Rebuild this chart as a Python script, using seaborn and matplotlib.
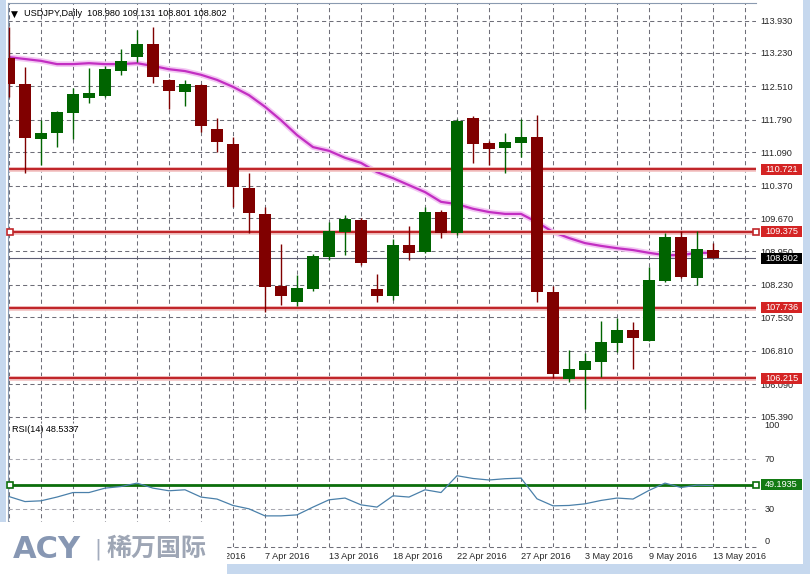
import numpy as np
import pandas as pd
import matplotlib
matplotlib.use('Agg')
import matplotlib.pyplot as plt
from matplotlib.patches import Rectangle
import seaborn as sns

# USDJPY daily candles (oldest -> newest)
opens = [113.12, 112.56, 111.38, 111.50, 111.94, 112.26, 112.30, 112.84, 113.14, 113.42,
         112.65, 112.39, 112.54, 111.59, 111.27, 110.32, 109.76, 108.20, 107.86, 108.14,
         108.83, 109.37, 109.63, 108.14, 107.99, 109.09, 108.94, 109.80, 109.35, 111.83,
         111.29, 111.18, 111.29, 111.42, 108.08, 106.20, 106.39, 106.57, 106.98, 107.26,
         107.02, 108.31, 109.26, 108.38, 108.980]
highs = [113.79, 112.93, 111.78, 111.98, 112.47, 112.91, 112.95, 113.32, 113.73, 113.79,
         112.67, 112.65, 112.56, 111.83, 111.42, 110.64, 109.91, 109.11, 108.44, 108.90,
         109.59, 109.74, 109.67, 108.46, 109.22, 109.50, 109.91, 109.84, 111.81, 111.87,
         111.33, 111.50, 111.81, 111.89, 108.20, 106.82, 106.76, 107.45, 107.51, 107.43,
         108.61, 109.35, 109.39, 109.39, 109.131]
lows = [112.28, 110.64, 110.81, 111.20, 111.38, 112.15, 112.28, 112.76, 113.04, 112.58,
        112.02, 112.09, 111.53, 111.09, 109.91, 109.35, 107.64, 107.80, 107.77, 108.10,
        108.77, 108.87, 108.66, 107.86, 107.90, 108.77, 108.92, 109.24, 109.30, 110.86,
        110.81, 110.64, 110.99, 107.86, 106.22, 106.13, 105.55, 106.24, 106.78, 106.42,
        107.02, 108.29, 108.38, 108.23, 108.801]
closes = [112.56, 111.40, 111.50, 111.96, 112.35, 112.37, 112.89, 113.06, 113.42, 112.71,
          112.41, 112.56, 111.66, 111.31, 110.34, 109.78, 108.18, 107.99, 108.16, 108.85,
          109.39, 109.65, 108.70, 107.99, 109.09, 108.92, 109.80, 109.35, 111.76, 111.27,
          111.16, 111.31, 111.42, 108.08, 106.31, 106.42, 106.59, 107.00, 107.26, 107.08,
          108.33, 109.26, 108.40, 109.00, 108.802]
moving_avg = [113.14, 113.10, 113.06, 112.99, 112.99, 113.01, 112.99, 112.99, 113.01, 112.95,
              112.88, 112.84, 112.76, 112.65, 112.50, 112.32, 112.07, 111.78, 111.46, 111.20,
              111.12, 110.97, 110.86, 110.66, 110.53, 110.38, 110.23, 110.02, 109.97, 109.87,
              109.80, 109.76, 109.76, 109.58, 109.37, 109.24, 109.13, 109.07, 109.02, 108.98,
              108.92, 108.87, 108.87, 108.92, 108.92]
rsi = [39.8, 35.8, 36.4, 39.4, 43.0, 43.0, 46.5, 47.8, 50.5, 46.5,
       44.4, 45.2, 39.4, 37.8, 32.7, 30.0, 24.4, 24.4, 25.2, 31.4,
       37.2, 38.6, 33.2, 31.4, 40.4, 39.4, 45.2, 43.0, 56.4, 54.2,
       53.0, 54.0, 54.5, 38.0, 32.4, 32.7, 34.0, 36.7, 38.6, 37.8,
       44.7, 50.5, 47.0, 48.9, 48.5337]

date_ticks = [12, 16, 20, 24, 28, 32, 36, 40, 44]
date_labels = ['1 Apr 2016', '7 Apr 2016', '13 Apr 2016', '18 Apr 2016', '22 Apr 2016',
               '27 Apr 2016', '3 May 2016', '9 May 2016', '13 May 2016']
price_ticks = [113.930, 113.230, 112.510, 111.790, 111.090, 110.370, 109.670,
               108.950, 108.230, 107.530, 106.810, 106.090, 105.390]
level_prices = [110.721, 109.375, 107.736, 106.215]
selected_level = 109.375
last_price = 108.802
rsi_level = 49.1935
rsi_ticks = [0, 30, 70, 100]

df = pd.DataFrame({'open': opens, 'high': highs, 'low': lows, 'close': closes,
                   'ma': moving_avg, 'rsi': rsi})
df['i'] = np.arange(len(df))

sns.set_style('white')
plt.rcParams['font.family'] = ['Liberation Sans', 'DejaVu Sans']

W, H = 810, 574
fig = plt.figure(figsize=(8.1, 5.74), dpi=100)


def px_box(x0, y0, x1, y1):
    return [x0 / W, 1 - y1 / H, (x1 - x0) / W, (y1 - y0) / H]


ax = fig.add_axes(px_box(8, 3, 756, 420))
ax_rsi = fig.add_axes(px_box(8, 421, 756, 546.5))
xlim = (-0.0625, 46.6875)
grid_kw = dict(color='#6e6e78', lw=0.75, ls=(0, (4, 3)))
small = 6.6

# ---- price panel ----
ax.set_xlim(*xlim)
ax.set_ylim(105.315, 114.308)
ax.set_xticks(range(0, 47, 2))
ax.set_xticklabels([])
ax.set_yticks(price_ticks)
ax.set_yticklabels([f'{v:.3f}' for v in price_ticks])
ax.yaxis.tick_right()
ax.tick_params(axis='y', length=0, pad=3, labelsize=small)
ax.tick_params(axis='x', length=0)
ax.grid(True, **grid_kw)
for s in ['right', 'bottom']:
    ax.spines[s].set_visible(False)
for s in ['left', 'top']:
    ax.spines[s].set_color('#8a9ab0')
    ax.spines[s].set_linewidth(0.8)

# moving average with soft halo, behind the candles
sns.lineplot(x=df['i'], y=df['ma'], ax=ax, color='#f3c6f3', lw=4, zorder=2)
sns.lineplot(x=df['i'], y=df['ma'], ax=ax, color='#c22ec2', lw=1.6, zorder=2.1)

# support / resistance levels
for lv in level_prices:
    ax.axhline(lv, color='#f4c8c8', lw=3.5, zorder=2.2)
    ax.axhline(lv, color='#c0262a', lw=1.6, zorder=2.3)
ax.axhline(last_price, color='#5e5e74', lw=0.8, zorder=2.3)
ax.plot([0.003, 1.0], [selected_level, selected_level], 's', ms=4, mfc='white',
        mec='#c0262a', mew=1.2, transform=ax.get_yaxis_transform(), clip_on=False, zorder=9)

# candles
up = df['close'] >= df['open']
colors = np.where(up, '#006400', '#800000')
ax.vlines(df['i'], df['low'], df['high'], colors=colors, lw=1, zorder=4)
body_low = df[['open', 'close']].min(axis=1)
body_h = (df['close'] - df['open']).abs().clip(lower=0.02)
ax.bar(df['i'], body_h, bottom=body_low, width=0.7, color=colors, lw=0, zorder=5)
ax.set_xlabel('')
ax.set_ylabel('')


def price_tag(axis, y, text, fc, px_per_unit):
    h = 11 / px_per_unit
    tr = axis.get_yaxis_transform()
    axis.add_patch(Rectangle((1.0067, y - h / 2), 0.055, h, transform=tr, fc=fc, ec='none',
                             clip_on=False, zorder=10))
    axis.text(1.0067 + 0.0275, y, text, transform=tr, ha='center', va='center',
              color='white', fontsize=small, zorder=11, clip_on=False)


ppu = 417 / (114.308 - 105.315)
for lv in level_prices:
    price_tag(ax, lv, f'{lv:.3f}', '#d42424', ppu)
price_tag(ax, last_price, f'{last_price:.3f}', '#000000', ppu)

# ---- RSI panel ----
ax_rsi.set_xlim(*xlim)
ax_rsi.set_ylim(0, 100)
ax_rsi.set_xticks(range(0, 47, 2))
ax_rsi.set_xticklabels([date_labels[date_ticks.index(t)] if t in date_ticks else ''
                        for t in range(0, 47, 2)])
for lab in ax_rsi.get_xticklabels():
    lab.set_ha('left')
ax_rsi.tick_params(axis='x', length=0, pad=4, labelsize=small)
ax_rsi.set_yticks(rsi_ticks)
ax_rsi.set_yticklabels([str(t) for t in rsi_ticks])
ax_rsi.yaxis.tick_right()
ax_rsi.tick_params(axis='y', length=0, pad=6, labelsize=small)
for lab, t in zip(ax_rsi.get_yticklabels(), rsi_ticks):
    if t == 100:
        lab.set_va('top')
    elif t == 0:
        lab.set_va('bottom')
ax_rsi.grid(True, axis='x', **grid_kw)
for s in ['right', 'bottom', 'top']:
    ax_rsi.spines[s].set_visible(False)
ax_rsi.spines['left'].set_color('#8a9ab0')
ax_rsi.spines['left'].set_linewidth(0.8)
for t in [30, 70]:
    ax_rsi.axhline(t, color='#a8a8b0', lw=0.75, ls=(0, (4, 3)), zorder=1)
ax_rsi.axhline(0, color='#6e6e78', lw=0.75, ls=(0, (4, 3)), zorder=1, clip_on=False)

ax_rsi.axhline(rsi_level, color='#0b6e0b', lw=2, zorder=3)
ax_rsi.plot([0.003, 1.0], [rsi_level, rsi_level], 's', ms=4, mfc='white', mec='#0b6e0b',
            mew=1.2, transform=ax_rsi.get_yaxis_transform(), clip_on=False, zorder=9)
sns.lineplot(x=df['i'], y=df['rsi'], ax=ax_rsi, color='#4a80aa', lw=0.9, zorder=4)
ax_rsi.set_xlabel('')
ax_rsi.set_ylabel('')
price_tag(ax_rsi, rsi_level, f'{rsi_level:.4f}', '#137a13', 1.255)

# ---- header texts ----
last = df.iloc[-1]
fig.text(11 / W, 1 - 14 / H, '▼', fontsize=6.5, va='center', color='black',
         family='DejaVu Sans')
fig.text(24 / W, 1 - 14 / H,
         f"USDJPY,Daily  {last['open']:.3f} {last['high']:.3f} {last['low']:.3f} {last['close']:.3f}",
         fontsize=small, va='center', color='black')
fig.text(12 / W, 1 - 430 / H, f"RSI(14) {rsi[-1]:.4f}", fontsize=small, va='center', color='black')

# ---- window frame and logo ----
frame = '#c6d8ee'
fig.add_artist(Rectangle((0, 1 - 522 / H), 6 / W, 522 / H, transform=fig.transFigure,
                         fc=frame, ec='none', zorder=1))
fig.add_artist(Rectangle((803 / W, 0), 7 / W, 1, transform=fig.transFigure,
                         fc=frame, ec='none', zorder=1))
fig.add_artist(Rectangle((227 / W, 0), 583 / W, 10 / H, transform=fig.transFigure,
                         fc=frame, ec='none', zorder=1))
fig.add_artist(Rectangle((0, 0), 227 / W, 52 / H, transform=fig.transFigure,
                         fc='white', ec='none', zorder=2))
fig.text(13 / W, 1 - 549 / H, 'ACY', fontsize=22, fontweight='heavy', color='#8797b3',
         family='DejaVu Sans', va='center', zorder=5)
fig.text(94 / W, 1 - 549 / H, '|', fontsize=15, color='#a3acbd', family='DejaVu Sans',
         va='center', zorder=5)
fig.text(107 / W, 1 - 549 / H, '稀万国际', fontsize=18, fontweight='bold', color='#9ea6b5',
         family=['Noto Sans CJK SC', 'DejaVu Sans'], va='center', zorder=5)

fig.savefig('out.png', dpi=100, facecolor='white')
